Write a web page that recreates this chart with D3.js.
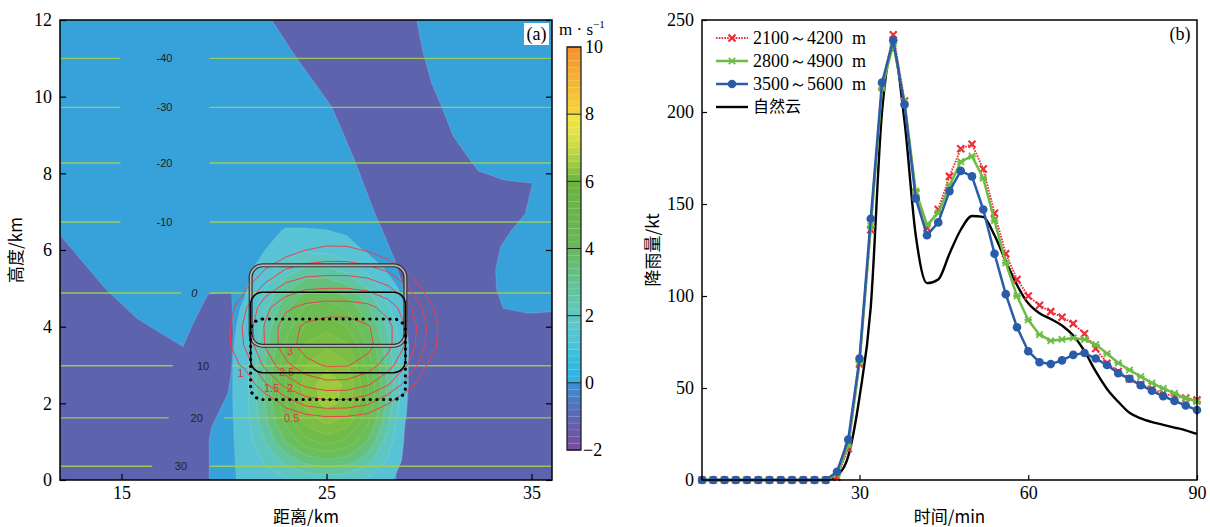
<!DOCTYPE html>
<html>
<head>
<meta charset="utf-8">
<script src="https://cdn.jsdelivr.net/npm/d3@7"></script>
<style>
body { margin: 0; background: #fff; }
text { font-family: "Liberation Serif", "DejaVu Serif", serif; }
.cjk { font-family: "Noto Sans CJK SC", "Noto Sans", sans-serif; }
.small { font-family: "Liberation Sans", Arial, sans-serif; }
</style>
</head>
<body>
<div id="chart"></div>
<script>
// ---------- panel (b): rainfall time series ----------
var times = [2,4,6,8,10,12,14,16,18,20,22,24,26,28,30,32,34,36,38,40,42,44,46,48,50,52,54,56,58,60,62,64,66,68,70,72,74,76,78,80,82,84,86,88,90];
var rain2100 = [0,0,0,0,0,0,0,0,0,0,0,0,1.5,17,63,136,214,242,206,156,137,147,165,180,182.5,169,145,123,109,100,95,91.5,88.5,85,79.5,71.5,63.5,59,55,52,49.5,47,45.5,44.5,43.5];
var rain2800 = [0,0,0,0,0,0,0,0,0,0,0,0,3,19,64,138,213,237,205.5,157,138.6,145,160,173,176,164,141,118,100,87,79,75.7,76.4,77.2,76.4,73.6,68.7,63.6,59.8,56.2,52.7,49.8,47.1,44.4,42.6];
var rain3500 = [0,0,0,0,0,0,0,0,0,0,0,0,4.5,22,66,142,216,239,204,153,133,140,157,168,165,147,123,101,83,70,64,63,65,68,69,66,62.5,58,55,51.5,48.5,45.5,43,40.5,38];
var rainNatural = [0,0,0,0,0,0,0,0,0,0,0,0,2.5,13,45,94,200,234,195,133,107,109,123,136,143.5,143,133,119,106,96,90.6,87.5,84,78.5,70,59,49.5,42.5,36.5,33.5,31.5,30,28.5,27,25];
var seriesNames = ["2100～4200  m", "2800～4900  m", "3500～5600  m", "自然云"];
var timeTicks = [30, 60, 90];
var rainTicks = [0, 50, 100, 150, 200, 250];

// ---------- panel (a): vertical velocity section ----------
var distTicks = [15, 25, 35];
var heightTicks = [0, 2, 4, 6, 8, 10, 12];
var cbTicks = [-2, 0, 2, 4, 6, 8, 10];

// isotherms (degC) : height km, label position, label gap
var isoTemps = [-40, -30, -20, -10, 0, 10, 20, 30];
var isoHeights = [11.0, 9.72, 8.27, 6.73, 4.88, 2.98, 1.62, 0.36];
var isoLabelX = [17.1, 17.1, 17.1, 17.1, 18.55, 18.98, 18.67, 17.9];
var isoGapL = [14.95, 14.95, 14.95, 14.95, 17.9, 17.5, 17.3, 16.5];
var isoGapR = [19.3, 19.3, 19.3, 19.3, 19.3, 20.4, 20.0, 19.3];

// downdraft regions (w < 0), km
var downdraftA = [[22.33,12],[29.4,12],[29.72,11.13],[30.13,10.35],[30.62,9.74],[31.19,8.96],[32.0,8.35],[32.4,8.07],[33.62,7.83],[35.05,7.74],[34.7,6.95],[34.0,6.5],[33.5,6.1],[33.25,5.48],[33.3,4.96],[33.62,4.48],[34.85,4.35],[36,4.39],[36,0],[28.4,0],[28.4,0.26],[28.67,1.04],[28.9,1.65],[29.0,2.5],[29.0,3.4],[28.9,4.43],[28.7,5.1],[28.35,5.7],[27.9,6.3],[27.4,6.9],[26.9,7.6],[26.4,8.3],[25.82,9.04],[25.25,9.74],[24.2,10.52],[23.38,11.13]];
var downdraftB = [[12,6.39],[14.2,5.0],[15.74,4.22],[18.0,3.48],[18.42,4.0],[18.9,4.52],[19.23,4.85],[20.37,4.89],[20.45,3.83],[20.37,2.87],[20.2,2.27],[19.72,1.74],[19.4,1.39],[19.28,1.04],[19.28,0],[12,0]];

// updraft core w (m/s) on a grid: columns = gridX km, rows = gridY km (top to bottom)
var gridX = [19,20,21,22,23,24,25,26,27,28,29,30];
var gridY = [7,6.5,6,5.5,5,4.5,4,3.5,3,2.5,2,1.5,1,0.5,0];
var wGrid = [
  [0.1,0.1,0.1,0.2,0.2,0.2,0.2,0.2,0.2,0.1,0.1,0.1],
  [0.1,0.1,0.2,0.3,0.55,0.55,0.52,0.4,0.3,0.2,0.1,0.1],
  [0.1,0.1,0.2,0.5,1.0,1.1,1.0,0.8,0.4,0.2,0.1,0.1],
  [0.1,0.1,0.3,0.8,1.5,1.9,1.9,1.6,1.0,0.4,0.1,0.1],
  [0.1,0.1,0.4,1.2,2.2,2.9,3.0,2.6,1.8,0.8,0.2,0.1],
  [0.1,0.1,0.6,1.6,2.8,3.7,3.9,3.5,2.5,1.3,0.3,0.1],
  [0.1,0.2,0.7,2.0,3.3,4.3,4.6,4.2,3.1,1.7,0.4,0.1],
  [0.1,0.2,0.8,2.2,3.7,4.9,5.3,4.9,3.6,2.0,0.5,0.1],
  [0.1,0.2,0.9,2.4,4.0,5.4,5.9,5.5,4.0,2.2,0.45,0.1],
  [0.1,0.2,0.9,2.5,4.2,5.7,6.3,5.9,4.3,2.3,0.4,0.1],
  [0.1,0.2,0.9,2.4,4.1,5.6,6.2,5.8,4.2,2.2,0.35,0.1],
  [0.1,0.2,0.85,2.2,3.7,5.0,5.5,5.1,3.7,1.9,0.2,0.1],
  [0.1,0.2,0.8,1.8,3.0,4.0,4.4,4.0,3.0,1.5,0.2,0.1],
  [0.1,0.2,0.75,1.3,2.0,2.6,2.9,2.7,2.0,1.1,0.2,0.1],
  [0.1,0.2,0.7,0.9,1.1,1.3,1.4,1.3,1.1,0.6,0.2,0.1]
];
var cloudLevels = [0.5, 1.2, 1.8, 2.4, 3, 3.6, 4.2, 4.8, 5.4, 6];

// seeding agent field (red contours)
var seedX = [19,20,21,22,23,24,25,26,27,28,29,30,31];
var seedY = [7,6.5,6,5.5,5,4.5,4,3.5,3,2.5,2,1.5,1];
var seedGrid = [
  [0,0,0,0,0,0,0,0,0,0,0,0,0],
  [0,0,0,0,0,0,0,0,0,0,0,0,0],
  [0,0,0,0,0.2,0.5,0.63,0.62,0.45,0.12,0,0,0],
  [0,0,0.1,0.5,1.0,1.2,1.25,1.25,1.15,0.9,0.35,0,0],
  [0,0,0.4,1.2,1.7,1.95,2.0,2.0,1.9,1.6,1.05,0.2,0],
  [0,0.1,0.9,1.85,2.4,2.65,2.75,2.75,2.65,2.3,1.65,0.65,0],
  [0,0.25,1.1,2.05,2.75,3.1,3.25,3.25,3.05,2.65,1.9,0.88,0],
  [0,0.25,1.03,2.02,2.78,3.2,3.4,3.38,3.15,2.66,1.84,0.78,0],
  [0,0.15,0.61,1.63,2.37,2.86,3.05,3.04,2.78,2.23,1.46,0.4,0],
  [0,0,0.04,0.93,1.67,2.15,2.35,2.33,2.07,1.55,0.73,0,0],
  [0,0,0,0.04,0.65,1.16,1.3,1.28,1.08,0.52,0,0,0],
  [0,0,0,0,0,0,0.15,0.13,0,0,0,0,0],
  [0,0,0,0,0,0,0,0,0,0,0,0,0]
];
var seedLevels = [0.5, 1, 1.5, 2, 2.5, 3];
var seedLabels = ["3", "2.5", "2", "1.5", "1", "0.5"];
var seedLabelX = [23.22, 23.06, 23.22, 22.33, 20.81, 23.3];
var seedLabelY = [3.35, 2.82, 2.39, 2.39, 2.78, 1.61];

// seeding layers (km)
var layerBottom = [2.1, 2.8, 3.5];
var layerTop = [4.2, 4.9, 5.6];
var layerLeft = 21.3, layerRight = 28.85;

var svg = d3.select('#chart').append('svg').attr('width', 1210).attr('height', 527);

// ================= panel (a) =================
var aLeft = 60, aRight = 552, aTop = 20, aBottom = 480;
var xA = d3.scaleLinear().domain([12, 36]).range([aLeft, aRight]);
var yA = d3.scaleLinear().domain([0, 12]).range([aBottom, aTop]);

svg.append('clipPath').attr('id', 'clipA').append('rect')
    .attr('x', aLeft).attr('y', aTop).attr('width', aRight - aLeft).attr('height', aBottom - aTop);
var plotA = svg.append('g').attr('clip-path', 'url(#clipA)');

plotA.append('rect').attr('x', aLeft).attr('y', aTop)
    .attr('width', aRight - aLeft).attr('height', aBottom - aTop).attr('fill', '#37a1da');

var kmLine = d3.line().x(function (d) { return xA(d[0]); }).y(function (d) { return yA(d[1]); });
plotA.selectAll('path.down').data([downdraftA, downdraftB]).enter().append('path')
    .attr('class', 'down')
    .attr('d', function (d) { return kmLine(d) + 'Z'; })
    .attr('fill', '#5e63ae')
    .attr('stroke', 'rgba(255,255,255,0.25)').attr('stroke-width', 0.6);

// grid -> km -> pixel path
function gridPath(xs, ys) {
    var dx = xs[1] - xs[0], dy = ys[1] - ys[0];
    return d3.geoPath(d3.geoTransform({
        point: function (gx, gy) {
            this.stream.point(xA(xs[0] + (gx - 0.5) * dx), yA(ys[0] + (gy - 0.5) * dy));
        }
    }));
}

var cloudColor = d3.scaleLinear()
    .domain([0.5, 1.2, 1.8, 2.4, 3.0, 4.2, 5.4, 6])
    .range(['#58c3d4', '#5dc6c3', '#61c4a2', '#66c17c', '#6bbe5c', '#71bb47', '#87c140', '#9ccb3d']);
var cloud = d3.contours().size([gridX.length, gridY.length]).thresholds(cloudLevels)([].concat.apply([], wGrid));
plotA.selectAll('path.cloud').data(cloud).enter().append('path')
    .attr('class', 'cloud')
    .attr('d', gridPath(gridX, gridY))
    .attr('fill', function (d) { return cloudColor(d.value); })
    .attr('stroke', 'rgba(255,255,255,0.16)').attr('stroke-width', 0.7);

// isotherms
isoTemps.forEach(function (t, i) {
    var segs = [[[12, isoHeights[i]], [isoGapL[i], isoHeights[i]]], [[isoGapR[i], isoHeights[i]], [36, isoHeights[i]]]];
    plotA.selectAll(null).data(segs).enter().append('path')
        .attr('d', kmLine).attr('fill', 'none')
        .attr('stroke', '#a4d04e').attr('stroke-width', 1.4).attr('opacity', 0.9);
    plotA.append('text').attr('class', 'small')
        .attr('x', xA(isoLabelX[i])).attr('y', yA(isoHeights[i]))
        .attr('dy', '0.35em').attr('text-anchor', 'middle')
        .attr('font-size', 11).attr('fill', '#222')
        .attr('font-style', t === 0 ? 'italic' : null)
        .text(t);
});

// seeding agent contours
var seed = d3.contours().size([seedX.length, seedY.length]).thresholds(seedLevels)([].concat.apply([], seedGrid));
plotA.selectAll('path.seed').data(seed).enter().append('path')
    .attr('class', 'seed')
    .attr('d', gridPath(seedX, seedY))
    .attr('fill', 'none').attr('stroke', '#e8434b').attr('stroke-width', 1);
plotA.selectAll('text.seedlab').data(seedLabels).enter().append('text')
    .attr('class', 'small seedlab')
    .attr('x', function (d, i) { return xA(seedLabelX[i]); })
    .attr('y', function (d, i) { return yA(seedLabelY[i]); })
    .attr('dy', '0.35em').attr('text-anchor', 'middle')
    .attr('font-size', 11).attr('fill', '#e8323a')
    .text(function (d) { return d; });

// seeding layer boxes
function layerRect(g, i) {
    return g.append('rect')
        .attr('x', xA(layerLeft)).attr('y', yA(layerTop[i]))
        .attr('width', xA(layerRight) - xA(layerLeft))
        .attr('height', yA(layerBottom[i]) - yA(layerTop[i]))
        .attr('rx', 12).attr('ry', 12)
        .attr('fill', 'none');
}
layerRect(plotA, 2).attr('stroke', '#333').attr('stroke-width', 4);
layerRect(plotA, 2).attr('stroke', 'rgba(255,255,255,0.65)').attr('stroke-width', 1.6);
layerRect(plotA, 1).attr('stroke', '#000').attr('stroke-width', 1.5);
layerRect(plotA, 0).attr('stroke', '#000').attr('stroke-width', 3.2)
    .attr('stroke-dasharray', '0.1 6.6').attr('stroke-linecap', 'round');

// frame and axes (a)
svg.append('rect').attr('x', aLeft).attr('y', aTop).attr('width', aRight - aLeft).attr('height', aBottom - aTop)
    .attr('fill', 'none').attr('stroke', '#000').attr('stroke-width', 1.5);
var axA = svg.append('g').attr('transform', 'translate(' + aLeft + ',0)')
    .call(d3.axisLeft(yA).tickValues(heightTicks).tickSize(-6).tickPadding(8).tickFormat(d3.format('d')));
var axAb = svg.append('g').attr('transform', 'translate(0,' + aBottom + ')')
    .call(d3.axisBottom(xA).tickValues(distTicks).tickSize(-6).tickPadding(6));
var axAr = svg.append('g').attr('transform', 'translate(' + aRight + ',0)')
    .call(d3.axisRight(yA).tickValues(heightTicks).tickSize(-6).tickFormat(''));
[axA, axAb, axAr].forEach(function (g) {
    g.select('.domain').remove();
    g.selectAll('text').attr('font-size', 18).attr('font-family', '"Liberation Serif", serif').attr('fill', '#000');
    g.selectAll('line').attr('stroke-width', 1.2);
});

svg.append('text').attr('class', 'cjk').attr('x', xA(24)).attr('y', 523)
    .attr('text-anchor', 'middle').attr('font-size', 17).text('距离/km');
svg.append('text').attr('class', 'cjk')
    .attr('transform', 'translate(22,' + yA(6) + ') rotate(-90)')
    .attr('text-anchor', 'middle').attr('font-size', 17).text('高度/km');

// (a) tag
svg.append('rect').attr('x', aRight - 28).attr('y', aTop + 3).attr('width', 25).attr('height', 22).attr('fill', '#fff');
svg.append('text').attr('x', aRight - 15.5).attr('y', aTop + 20).attr('text-anchor', 'middle')
    .attr('font-size', 18).text('(a)');

// colour bar
var cbLeft = 567, cbWidth = 14;
var yCb = d3.scaleLinear().domain([-2, 10]).range([450, 47]);
var cbColor = d3.scaleLinear()
    .domain([-2, -1.5, -1, -0.5, -0.05, 0.05, 0.5, 1, 1.5, 2, 2.5, 3, 3.5, 4, 5, 6, 6.5, 7, 7.5, 7.95, 8.05, 8.5, 9, 9.5, 10])
    .range(['#7b4c9e', '#6a58a8', '#5a67b4', '#4b7bc4', '#3d8fd2', '#2fb3e4', '#31b9e2', '#46c1db', '#58c6d2', '#60c8c2',
        '#62c6ab', '#64c294', '#66bd78', '#68b85d', '#6ab54a', '#6cb23e', '#9ccb43', '#c5da48', '#e4e34a', '#f0e640',
        '#f3d43c', '#f3c63a', '#f4b535', '#f4a232', '#f5912e']);
var cbSteps = d3.range(-2, 10, 0.2);
svg.selectAll('rect.cb').data(cbSteps).enter().append('rect')
    .attr('class', 'cb')
    .attr('x', cbLeft).attr('width', cbWidth)
    .attr('y', function (d) { return yCb(d + 0.2); })
    .attr('height', function (d) { return yCb(d) - yCb(d + 0.2) + 0.3; })
    .attr('fill', function (d) { return cbColor(d + 0.1); });
svg.selectAll('line.cbsep').data(cbSteps.slice(1)).enter().append('line')
    .attr('x1', cbLeft).attr('x2', cbLeft + cbWidth)
    .attr('y1', function (d) { return yCb(d); }).attr('y2', function (d) { return yCb(d); })
    .attr('stroke', 'rgba(255,255,255,0.25)').attr('stroke-width', 0.6);
svg.selectAll('line.cbmaj').data(cbTicks).enter().append('line')
    .attr('x1', cbLeft).attr('x2', cbLeft + cbWidth)
    .attr('y1', function (d) { return yCb(d); }).attr('y2', function (d) { return yCb(d); })
    .attr('stroke', '#222').attr('stroke-width', 1);
svg.append('rect').attr('x', cbLeft).attr('y', yCb(10)).attr('width', cbWidth).attr('height', yCb(-2) - yCb(10))
    .attr('fill', 'none').attr('stroke', '#222').attr('stroke-width', 1.3);
svg.selectAll('text.cbt').data(cbTicks).enter().append('text')
    .attr('x', function (d) { return d < 0 ? cbLeft + cbWidth + 2 : cbLeft + cbWidth + 4; })
    .attr('y', function (d) { return yCb(d); }).attr('dy', '0.35em')
    .attr('font-size', 18)
    .text(function (d) { return d < 0 ? '\u2212' + Math.abs(d) : d; });
var unit = svg.append('text').attr('x', 559).attr('y', 35).attr('font-size', 17);
unit.append('tspan').text('m · s');
unit.append('tspan').attr('font-size', 11).attr('dy', -7).text('\u22121');

// ================= panel (b) =================
var bLeft = 702, bRight = 1197, bTop = 20, bBottom = 480;
var xB = d3.scaleLinear().domain([2, 90]).range([bLeft, bRight]);
var yB = d3.scaleLinear().domain([0, 250]).range([bBottom, bTop]);

var axB = svg.append('g').attr('transform', 'translate(' + bLeft + ',0)')
    .call(d3.axisLeft(yB).tickValues(rainTicks).tickSize(-5).tickPadding(8));
var axBb = svg.append('g').attr('transform', 'translate(0,' + bBottom + ')')
    .call(d3.axisBottom(xB).tickValues(timeTicks).tickSize(-5).tickPadding(6));
[axB, axBb].forEach(function (g) {
    g.select('.domain').remove();
    g.selectAll('text').attr('font-size', 18).attr('font-family', '"Liberation Serif", serif').attr('fill', '#000');
    g.selectAll('line').attr('stroke-width', 1.2);
});

var series = [
    { values: rainNatural, color: '#000', width: 2.4, dash: null, marker: null, curve: d3.curveMonotoneX },
    { values: rain2100, color: '#ee2f3a', width: 2, dash: '1.6 1.2', marker: 'x', curve: d3.curveLinear },
    { values: rain2800, color: '#6cbd45', width: 2.5, dash: null, marker: 'star', curve: d3.curveLinear },
    { values: rain3500, color: '#2b5ca9', width: 2.5, dash: null, marker: 'dot', curve: d3.curveLinear }
];

function drawMarker(g, type, color) {
    if (type === 'x') {
        g.append('path').attr('d', 'M-3.5,-3.5L3.5,3.5M-3.5,3.5L3.5,-3.5')
            .attr('stroke', color).attr('stroke-width', 2.2).attr('fill', 'none');
    } else if (type === 'star') {
        g.append('path').attr('d', 'M-3.2,-3.2L3.2,3.2M-3.2,3.2L3.2,-3.2M-3.8,0L3.8,0')
            .attr('stroke', color).attr('stroke-width', 1.8).attr('fill', 'none');
    } else if (type === 'dot') {
        g.append('circle').attr('r', 4.3).attr('fill', color);
    }
}

series.forEach(function (s) {
    var line = d3.line().curve(s.curve)
        .x(function (d, i) { return xB(times[i]); })
        .y(function (d) { return yB(d); });
    svg.append('path').datum(s.values).attr('d', line)
        .attr('fill', 'none').attr('stroke', s.color).attr('stroke-width', s.width)
        .attr('stroke-dasharray', s.dash).attr('stroke-linejoin', 'round');
    if (s.marker) {
        s.values.forEach(function (v, i) {
            var g = svg.append('g').attr('transform', 'translate(' + xB(times[i]) + ',' + yB(v) + ')');
            drawMarker(g, s.marker, s.color);
        });
    }
});

svg.append('rect').attr('x', bLeft).attr('y', bTop).attr('width', bRight - bLeft).attr('height', bBottom - bTop)
    .attr('fill', 'none').attr('stroke', '#000').attr('stroke-width', 1.5);

// legend
var legendOrder = [series[1], series[2], series[3], series[0]];
legendOrder.forEach(function (s, i) {
    var ly = 38 + i * 23;
    var lg = svg.append('g').attr('transform', 'translate(716,' + ly + ')');
    lg.append('line').attr('x1', 0).attr('x2', 32).attr('y1', 0).attr('y2', 0)
        .attr('stroke', s.color).attr('stroke-width', s.width).attr('stroke-dasharray', s.dash);
    if (s.marker) {
        var mg = lg.append('g').attr('transform', 'translate(16,0)');
        drawMarker(mg, s.marker, s.color);
    }
    lg.append('text').attr('x', 37).attr('y', 0).attr('dy', '0.33em')
        .attr('font-size', i === 3 ? 16 : 18).style('white-space', 'pre')
        .attr('class', i === 3 ? 'cjk' : null)
        .text(seriesNames[i]);
});

svg.append('text').attr('x', bRight - 17).attr('y', bTop + 20).attr('text-anchor', 'middle')
    .attr('font-size', 18).text('(b)');
svg.append('text').attr('class', 'cjk').attr('x', xB(46)).attr('y', 523)
    .attr('text-anchor', 'middle').attr('font-size', 17).text('时间/min');
svg.append('text').attr('class', 'cjk')
    .attr('transform', 'translate(659,' + yB(125) + ') rotate(-90)')
    .attr('text-anchor', 'middle').attr('font-size', 17).text('降雨量/kt');
</script>
</body>
</html>
